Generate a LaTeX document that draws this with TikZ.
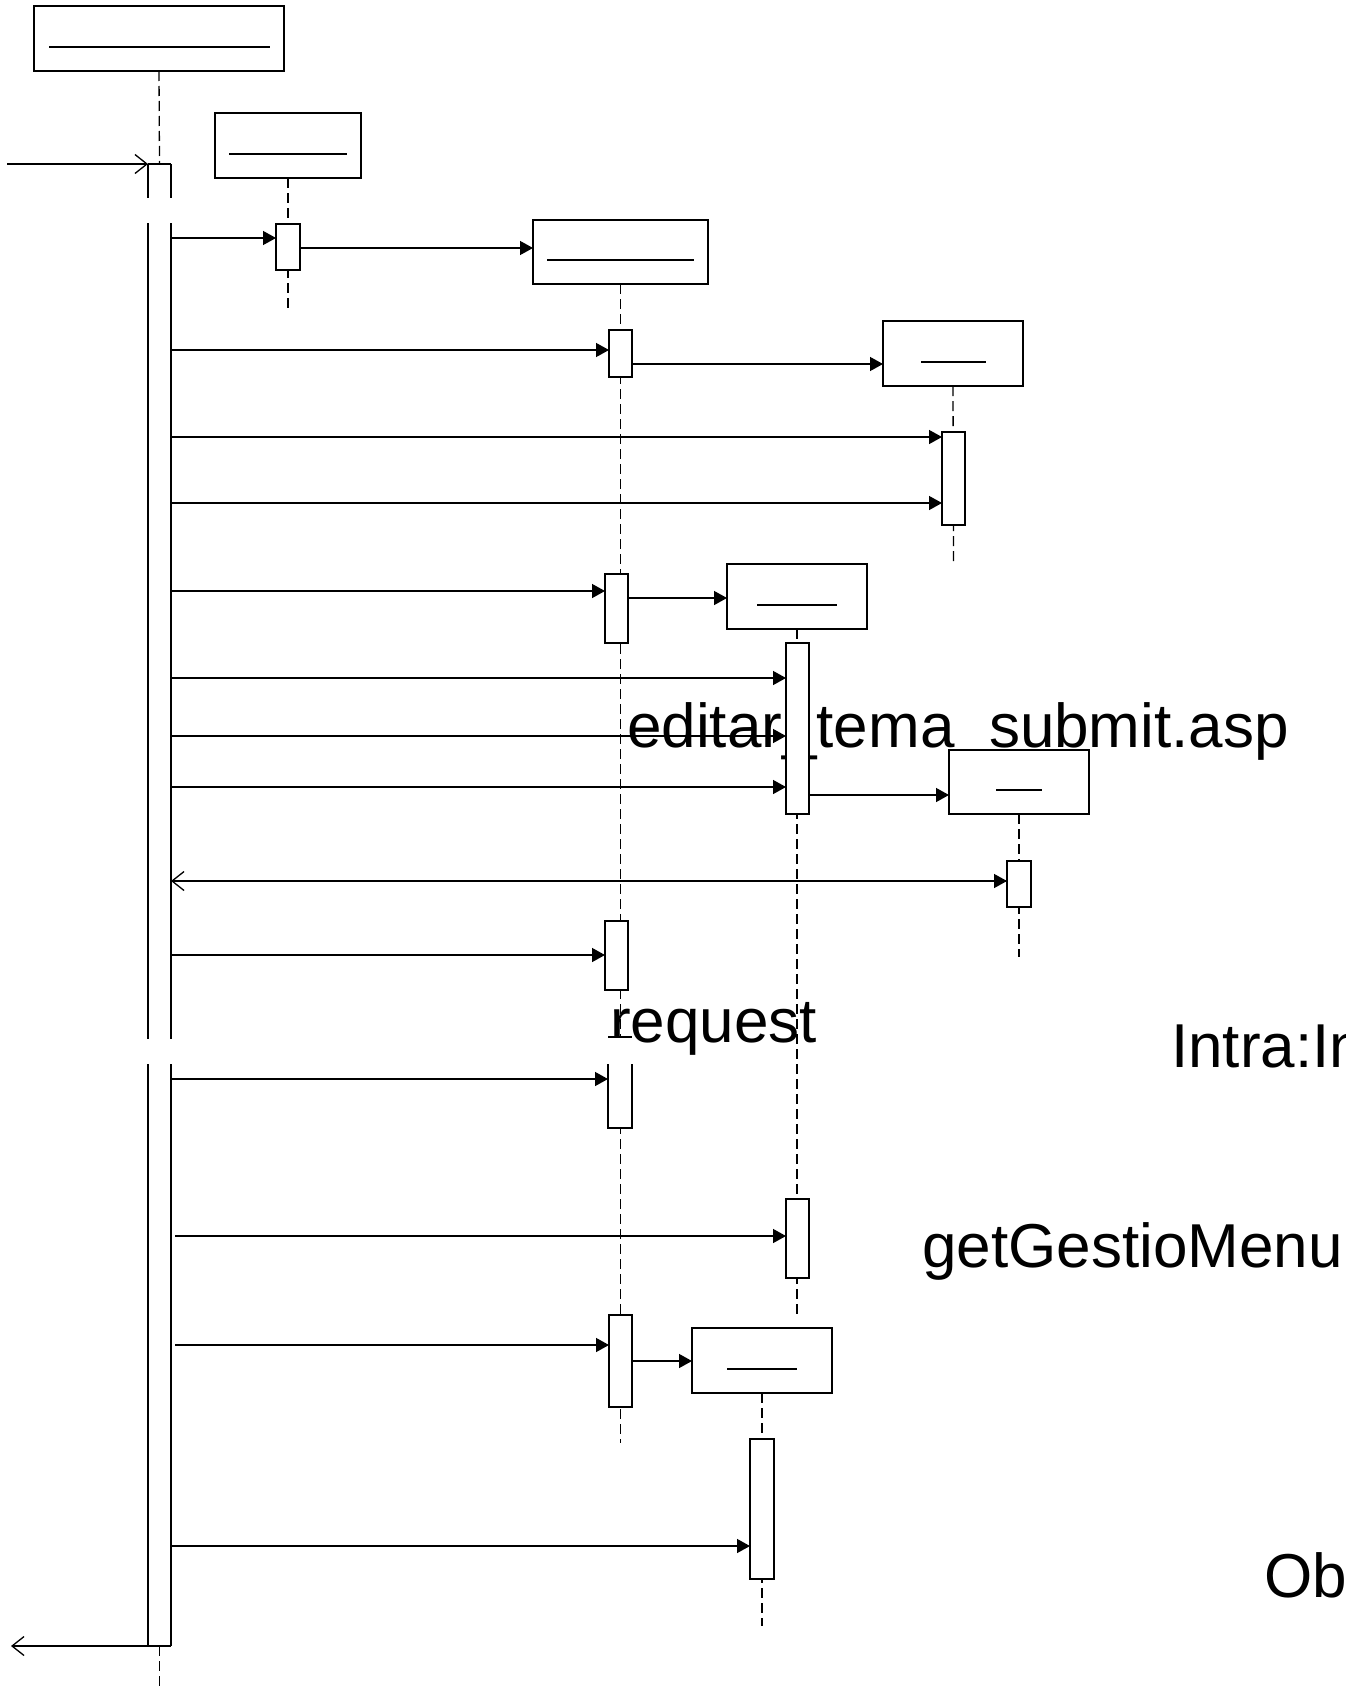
\documentclass[tikz,border=0pt]{standalone}
\usepackage{fontspec}
\setmainfont{Liberation Sans}
\usetikzlibrary{arrows.meta}
\begin{document}
\begin{tikzpicture}[x=1pt,y=-1pt,
  obj/.style={draw, fill=white, line width=1.4pt, inner sep=0pt, outer sep=0pt},
  act/.style={draw, fill=white, line width=1.4pt, inner sep=0pt, outer sep=0pt, minimum width=23pt},
  actfill/.style={fill=white, inner sep=0pt, outer sep=0pt, minimum width=23pt},
  edge/.style={line width=1.4pt},
  life/.style={line width=1.3pt, dash pattern=on 10pt off 5pt},
  msg/.style={line width=1.4pt, -{Triangle[length=13pt,width=14pt]}},
  ret/.style={line width=1.3pt, -{Straight Barb[length=12pt,width=19pt]}},
  uline/.style={line width=1.4pt},
  lbl/.style={anchor=base west, inner sep=0pt, font=\fontsize{62}{62}\selectfont}]
\useasboundingbox (0,0) rectangle (1345,1691);
\clip (0,0) rectangle (1345,1691);
\fill[white] (0,0) rectangle (1345,1691);

% ---- object box centres ----
\path
  (159,38.5)   coordinate (c1)
  (288,145.5)  coordinate (c2)
  (620.5,252)  coordinate (c3)
  (953,353.5)  coordinate (c4)
  (797,596.5)  coordinate (c5)
  (1019,782)   coordinate (c6)
  (762,1360.5) coordinate (c7);

% ---- lifeline ends ----
\coordinate (e1) at (159.5,1691);
\coordinate (e2) at (288,309);
\coordinate (e3) at (620.5,1443);
\coordinate (e4) at (953.5,561);
\coordinate (e5) at (797,1315);
\coordinate (e6) at (1019,957);
\coordinate (e7) at (762,1626);
\coordinate (inL) at (7,164);
\coordinate (outL) at (11,1646);

% geometry nodes
\path
  (c1) node[obj, draw=none, fill=none, minimum width=250pt, minimum height=65pt] (b1) {}
  (c2) node[obj, draw=none, fill=none, minimum width=146pt, minimum height=65pt] (b2) {}
  (c3) node[obj, draw=none, fill=none, minimum width=175pt, minimum height=64pt] (b3) {}
  (c4) node[obj, draw=none, fill=none, minimum width=140pt, minimum height=65pt] (b4) {}
  (c5) node[obj, draw=none, fill=none, minimum width=140pt, minimum height=65pt] (b5) {}
  (c6) node[obj, draw=none, fill=none, minimum width=140pt, minimum height=64pt] (b6) {}
  (c7) node[obj, draw=none, fill=none, minimum width=140pt, minimum height=65pt] (b7) {};
\path
  (159.5,905)  node[actfill, fill=none, minimum height=1482pt] (main) {}
  (288,247)    node[actfill, fill=none, minimum width=24pt, minimum height=46pt] (a2) {}
  (620.5,353.5) node[actfill, fill=none, minimum height=47pt] (a3a) {}
  (953.5,478.5) node[actfill, fill=none, minimum height=93pt] (a4) {}
  (616.5,608.5) node[actfill, fill=none, minimum height=69pt] (a3b) {}
  (797.5,728.5) node[actfill, fill=none, minimum height=171pt] (a5a) {}
  (1019,884)   node[actfill, fill=none, minimum width=24pt, minimum height=46pt] (a6) {}
  (616.5,955.5) node[actfill, fill=none, minimum height=69pt] (a3c) {}
  (620,1082.5) node[actfill, fill=none, minimum width=24pt, minimum height=91pt] (a3d) {}
  (797.5,1238.5) node[actfill, fill=none, minimum height=79pt] (a5b) {}
  (620.5,1361) node[actfill, fill=none, minimum height=92pt] (a3e) {}
  (762,1509)   node[actfill, fill=none, minimum width=24pt, minimum height=140pt] (a7) {};

% ---- lifelines ----
\draw[life] (b1.south) -- (main.north);
\draw[life] (main.south) -- (e1);
\draw[life] (b2.south) -- (e2);
\draw[life] (b3.south) -- (e3);
\draw[life] (b4.south) -- (e4);
\draw[life] (b5.south) -- (e5);
\draw[life] (b6.south) -- (e6);
\draw[life] (b7.south) -- (e7);

% ---- messages ----
\draw[ret] (inL) -- (main.north west);
\draw[msg] (main.east |- 0,238) -- (a2.west |- 0,238);
\draw[msg] (a2.east |- 0,248) -- (b3.west |- 0,248);
\draw[msg] (main.east |- 0,350) -- (a3a.west |- 0,350);
\draw[msg] (a3a.east |- 0,364) -- (b4.west |- 0,364);
\draw[msg] (main.east |- 0,437) -- (a4.west |- 0,437);
\draw[msg] (main.east |- 0,503) -- (a4.west |- 0,503);
\draw[msg] (main.east |- 0,591) -- (a3b.west |- 0,591);
\draw[msg] (a3b.east |- 0,598) -- (b5.west |- 0,598);
\draw[msg] (main.east |- 0,678) -- (a5a.west |- 0,678);
\draw[msg] (main.east |- 0,736) -- (a5a.west |- 0,736);
\draw[msg] (main.east |- 0,787) -- (a5a.west |- 0,787);
\draw[msg] (a5a.east |- 0,795) -- (b6.west |- 0,795);
\draw[msg] (main.east |- 0,881) -- (a6.west |- 0,881);
\draw[ret] (a6.west |- 0,881) -- (main.east |- 0,881);
\draw[msg] (main.east |- 0,955) -- (a3c.west |- 0,955);
\draw[msg] ([xshift=4pt]main.east |- 0,1236) -- (a5b.west |- 0,1236);
\draw[msg] ([xshift=4pt]main.east |- 0,1345) -- (a3e.west |- 0,1345);
\draw[msg] (a3e.east |- 0,1361) -- (b7.west |- 0,1361);
\draw[msg] (main.east |- 0,1546) -- (a7.west |- 0,1546);
\draw[ret] (main.south west) -- (outL);

% ---- labels ----
\node[lbl] (t1) at (627,747) {editar\_tema\_submit.asp};
\node[lbl] (t2) at (610,1042) {request};
\node[lbl] (t3) at (1171,1067) {Intra:In};
\node[lbl] (t4) at (922,1267) {getGestioMenu};
\node[lbl] (t5) at (1264,1597) {Ob};

% ---- object boxes ----
\foreach \b in {b1,b2,b3,b4,b5,b6,b7}{
  \draw[obj] (\b.north west) rectangle (\b.south east);
}
\draw[uline] (49,47) -- (270,47);
\draw[uline] (229,154) -- (347,154);
\draw[uline] (547,260) -- (694,260);
\draw[uline] (921,362) -- (986,362);
\draw[uline] (757,605) -- (837,605);
\draw[uline] (996,790) -- (1042,790);
\draw[uline] (727,1369) -- (797,1369);

% ---- activations ----
\foreach \a in {a2,a3a,a4,a3b,a5a,a6,a3c,a5b,a3e,a7}{
  \draw[act] (\a.north west) rectangle (\a.south east);
}
% main bar with breaks in its sides
\fill[white] (main.north west) rectangle (main.south east);
\draw[edge] (main.north west) -- (main.north east);
\draw[edge] (main.south west) -- (main.south east);
\draw[edge] (main.north west) -- (main.west |- 0,198);
\draw[edge] (main.north east) -- (main.east |- 0,198);
\draw[edge] (main.west |- 0,223) -- (main.west |- 0,1039);
\draw[edge] (main.east |- 0,223) -- (main.east |- 0,1039);
\draw[edge] (main.west |- 0,1064) -- (main.south west);
\draw[edge] (main.east |- 0,1064) -- (main.south east);
% activation with hidden upper sides
\fill[white] (a3d.north west) rectangle (a3d.south east);
\draw[edge] (a3d.north west) -- (a3d.north east);
\draw[edge] (a3d.west |- 0,1064) -- (a3d.south west) -- (a3d.south east) -- (a3d.east |- 0,1064);
\draw[msg] (main.east |- 0,1079) -- (a3d.west |- 0,1079);
\end{tikzpicture}
\end{document}
